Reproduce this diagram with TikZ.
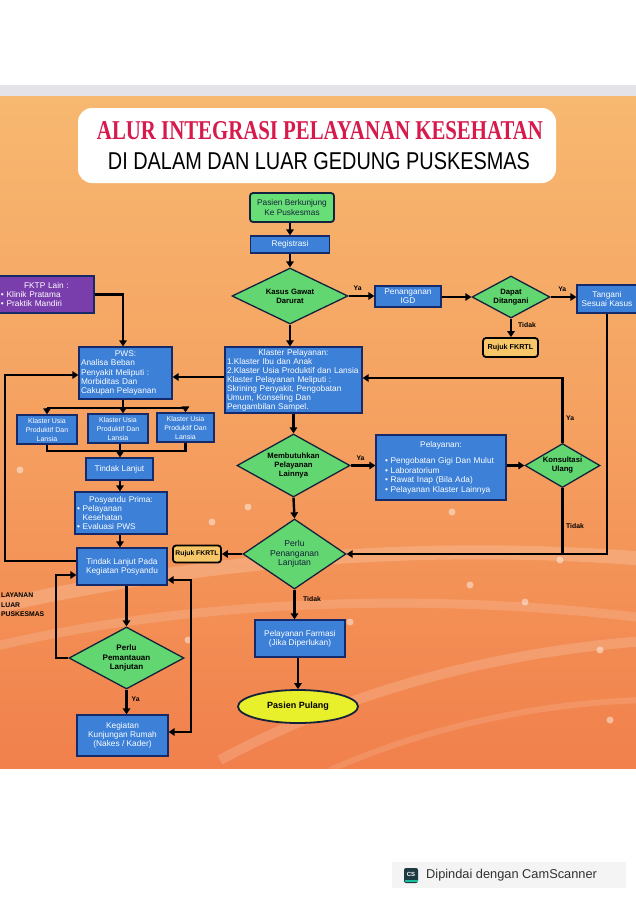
\documentclass[tikz,border=0pt]{standalone}
\usepackage{fontspec}
\setmainfont{Liberation Sans}
\newfontfamily\titleserif{Liberation Serif}
\usepackage{graphicx}
\usetikzlibrary{shapes.geometric,arrows.meta,calc}
\definecolor{boxblue}{RGB}{60,128,216}
\definecolor{navyb}{RGB}{22,42,105}
\definecolor{diagreen}{RGB}{98,214,112}
\definecolor{darkb}{RGB}{20,35,60}
\definecolor{fktppurple}{RGB}{122,62,172}
\definecolor{rujukfill}{RGB}{246,198,104}
\definecolor{pasiengreen}{RGB}{104,222,118}
\definecolor{pulangyellow}{RGB}{232,240,44}
\definecolor{titlered}{RGB}{214,26,76}
\definecolor{orangetop}{RGB}{247,184,112}
\definecolor{orangemid}{RGB}{245,160,96}
\definecolor{orangebot}{RGB}{241,128,76}
\definecolor{topstrip}{RGB}{228,228,232}
\definecolor{csgray}{RGB}{244,244,244}
\definecolor{cslogo}{RGB}{30,58,66}
\definecolor{csteal}{RGB}{26,188,156}
\definecolor{cstext}{RGB}{50,50,50}
\begin{document}
\begin{tikzpicture}[x=1pt,y=-1pt,
  bluebox/.style={draw=navyb, line width=1.2pt, fill=boxblue, text=white,
    font=\fontsize{8.3}{9.3}\selectfont, align=center, inner sep=1pt},
  purplebox/.style={draw=navyb, line width=1.2pt, fill=fktppurple, text=white,
    font=\fontsize{8.3}{9.3}\selectfont, inner sep=1pt},
  greenbox/.style={draw=darkb, line width=1.8pt, fill=pasiengreen, text=darkb,
    rounded corners=3pt, font=\fontsize{8.3}{9.5}\selectfont, align=center, inner sep=1pt},
  rujukbox/.style={draw=black, line width=1.8pt, fill=rujukfill, text=black,
    rounded corners=3pt, font=\bfseries\fontsize{7.2}{9}\selectfont, align=center, inner sep=1pt},
  dia/.style={diamond, draw=darkb, line width=1.3pt, fill=diagreen, text=black,
    font=\bfseries\fontsize{7.7}{9}\selectfont, align=center, inner sep=0pt, shape aspect=2},
  lbl/.style={font=\bfseries\fontsize{6.8}{8}\selectfont, text=black, inner sep=0pt},
  ln/.style={draw=black, line width=2.4pt},
  arr/.style={draw=black, line width=2.4pt, -{Triangle[length=6pt,width=7.5pt]}},
  arrb/.style={draw=black, line width=2.4pt, {Triangle[length=6pt,width=7.5pt]}-{Triangle[length=6pt,width=7.5pt]}}
]
\useasboundingbox (0,0) rectangle (636,900);
\fill[white] (0,0) rectangle (636,900);

% poster background
\shade[top color=orangetop, bottom color=orangemid] (0,96) rectangle (636,430);
\shade[top color=orangemid, bottom color=orangebot] (0,430) rectangle (636,768);
\fill[topstrip] (0,85) rectangle (636,96);
\begin{scope}
  \clip (0,96) rectangle (636,768);
  \draw[white, opacity=0.18, line width=14pt] (-20,610) .. controls (200,560) and (420,540) .. (660,560);
  \draw[white, opacity=0.14, line width=9pt] (-20,650) .. controls (180,600) and (430,590) .. (660,620);
  \draw[white, opacity=0.16, line width=10pt] (220,760) .. controls (350,690) and (500,650) .. (660,640);
  \draw[white, opacity=0.12, line width=6pt] (330,770) .. controls (420,730) and (540,700) .. (660,700);
  \foreach \px/\py in {248/507, 212/522, 188/640, 452/512, 350/622, 525/602, 600/650, 470/585, 560/560, 610/720, 20/470, 30/440}
    \fill[white, opacity=0.45] (\px,\py) circle (3.5pt);
\end{scope}

% title
\fill[white] (78,108) [rounded corners=14pt] rectangle (556,183);
\node[inner sep=0pt, text=titlered] (t1) at (320,131)
  {\resizebox{446pt}{18pt}{\titleserif\bfseries ALUR INTEGRASI PELAYANAN KESEHATAN}};
\node[inner sep=0pt, text=black] (t2) at (319,161.5)
  {\resizebox{422pt}{17pt}{DI DALAM DAN LUAR GEDUNG PUSKESMAS}};

% nodes
\node[greenbox, minimum width=84pt, minimum height=29pt] (pasien) at (292,207.5) {Pasien Berkunjung\\Ke Puskesmas};
\node[bluebox, minimum width=79pt, minimum height=17pt] (reg) at (290,244.5) {Registrasi};
\node[dia, minimum width=116pt, minimum height=56pt] (kasus) at (290,296) {Kasus Gawat\\Darurat};
\node[bluebox, minimum width=66pt, minimum height=21pt] (igd) at (408,296.5) {Penanganan\\IGD};
\node[dia, minimum width=78pt, minimum height=42pt] (dapat) at (511,297) {Dapat\\Ditangani};
\node[bluebox, minimum width=60pt, minimum height=28pt] (tangani) at (607,299) {Tangani\\Sesuai Kasus};
\node[rujukbox, minimum width=55pt, minimum height=19pt] (rujuka) at (510.5,347.5) {Rujuk FKRTL};

\node[purplebox, minimum width=95pt, minimum height=37pt, text width=91pt, align=left] (fktp) at (46.5,294.5)
  {\makebox[\linewidth]{FKTP Lain :}\\• Klinik Pratama\\• Praktik Mandiri};
\node[bluebox, minimum width=93pt, minimum height=52pt, text width=89pt, align=left] (pws) at (125.5,373)
  {\makebox[\linewidth]{PWS:}\\Analisa Beban\\Penyakit Meliputi :\\Morbiditas Dan\\Cakupan Pelayanan};
\node[bluebox, minimum width=137pt, minimum height=66pt, text width=133pt, align=left,
  font=\fontsize{8.3}{9}\selectfont] (klaster) at (293.5,380)
  {\makebox[\linewidth]{Klaster Pelayanan:}\\1.Klaster Ibu dan Anak\\2.Klaster Usia Produktif dan Lansia\\Klaster Pelayanan Meliputi :\\Skrining Penyakit, Pengobatan\\Umum, Konseling Dan\\Pengambilan Sampel.};

\node[bluebox, minimum width=60pt, minimum height=29pt, font=\fontsize{7}{9}\selectfont] (k1) at (47,429.5) {Klaster Usia\\Produktif Dan\\Lansia};
\node[bluebox, minimum width=60pt, minimum height=29pt, font=\fontsize{7}{9}\selectfont] (k2) at (118,428.5) {Klaster Usia\\Produktif Dan\\Lansia};
\node[bluebox, minimum width=57pt, minimum height=29pt, font=\fontsize{7}{9}\selectfont] (k3) at (185.5,427.5) {Klaster Usia\\Produktif Dan\\Lansia};

\node[bluebox, minimum width=67pt, minimum height=22pt] (tl) at (119.5,469) {Tindak Lanjut};
\node[bluebox, minimum width=92pt, minimum height=42pt, text width=88pt, align=left] (pp) at (121,513)
  {\makebox[\linewidth]{Posyandu Prima:}\\• Pelayanan\\\phantom{• }Kesehatan\\• Evaluasi PWS};
\node[bluebox, minimum width=90pt, minimum height=37pt] (tlp) at (122,566.5) {Tindak Lanjut Pada\\Kegiatan Posyandu};
\node[rujukbox, minimum width=48pt, minimum height=17pt, font=\bfseries\fontsize{6.8}{8}\selectfont] (rujukb) at (197,554) {Rujuk FKRTL};

\node[dia, minimum width=113pt, minimum height=63pt] (memb) at (293.5,465.5) {Membutuhkan\\Pelayanan\\Lainnya};
\node[bluebox, minimum width=130pt, minimum height=65pt, text width=126pt, align=left,
  font=\fontsize{8.3}{9.5}\selectfont] (pel) at (441,467.5)
  {\makebox[\linewidth]{Pelayanan:}\\[7pt]\hspace*{7pt}• Pengobatan Gigi Dan Mulut\\\hspace*{7pt}• Laboratorium\\\hspace*{7pt}• Rawat Inap (Bila Ada)\\\hspace*{7pt}• Pelayanan Klaster Lainnya};
\node[dia, minimum width=75pt, minimum height=44pt] (kons) at (562.5,465.5) {Konsultasi\\Ulang};
\node[dia, minimum width=103pt, minimum height=70pt, font=\fontsize{8.6}{9.5}\selectfont, text=darkb] (perlu) at (294.5,554) {Perlu\\Penanganan\\Lanjutan};
\node[bluebox, minimum width=90pt, minimum height=37pt] (farm) at (300,638.5) {Pelayanan Farmasi\\(Jika Diperlukan)};
\node[ellipse, draw=darkb, line width=1.8pt, fill=pulangyellow, minimum width=120pt, minimum height=33pt,
  font=\bfseries\fontsize{9}{10}\selectfont, inner sep=0pt] (pulang) at (298,706.5) {Pasien Pulang};
\node[dia, minimum width=115pt, minimum height=62pt, font=\bfseries\fontsize{8}{9.5}\selectfont] (pemant) at (126.5,658) {Perlu\\Pemantauan\\Lanjutan};
\node[bluebox, minimum width=91pt, minimum height=41pt] (kunj) at (122.5,735.5) {Kegiatan\\Kunjungan Rumah\\(Nakes / Kader)};

\node[anchor=north west, align=left, font=\bfseries\fontsize{6.8}{9.5}\selectfont, inner sep=0pt] (luar) at (1,593)
  {LAYANAN\\LUAR\\PUSKESMAS};

% helper coordinates
\coordinate (split) at (123,408);
\coordinate (join) at (120,451);
\coordinate (y377) at (0,377);
\coordinate (L1) at (5,561);
\coordinate (L2) at (5,375);
\coordinate (P1) at (56,658);
\coordinate (P2) at (56,575);
\coordinate (R1) at (191,580);
\coordinate (R2) at (191,732);
\coordinate (kup) at (0,378);

% connectors
\draw[arr] (pasien.south -| reg.north) -- (reg.north);
\draw[arr] (reg.south) -- (kasus.north);
\draw[arr] (kasus.east) -- (kasus.east -| igd.west) node[lbl, pos=0.35, above=4pt] (ya1) {Ya};
\draw[arr] (igd.east |- dapat.west) -- (dapat.west);
\draw[arr] (dapat.east) -- (dapat.east -| tangani.west) node[lbl, pos=0.45, above=4pt] (ya2) {Ya};
\draw[arr] (dapat.south) -- (dapat.south |- rujuka.north) node[lbl, pos=0.35, right=6pt] (td1) {Tidak};
\draw[arr] (kasus.south) -- (kasus.south |- klaster.north);

\draw[arr] (tangani.south) |- (perlu.east);
\draw[ln] (kons.south) -- (kons.south |- perlu.east);
\node[lbl, anchor=west] (td2) at (566,526) {Tidak};
\draw[arr] (kons.north) |- (klaster.east |- kup);
\node[lbl, anchor=west] (ya3) at (566,418) {Ya};
\draw[arr] (pel.east |- kons.west) -- (kons.west);
\draw[arr] (memb.east) -- (memb.east -| pel.west) node[lbl, pos=0.4, above=4pt] (ya4) {Ya};
\draw[arr] (klaster.south -| memb.north) -- (memb.north);
\draw[arr] (memb.south) -- (perlu.north);
\draw[arr] (perlu.west) -- (perlu.west -| rujukb.east);
\draw[arr] (perlu.south) -- (perlu.south |- farm.north);
\node[lbl, anchor=west] (td3) at (303,599) {Tidak};
\draw[arr] (pulang.north |- farm.south) -- (pulang.north);

\draw[arr] (klaster.west |- y377) -- (pws.east |- y377);
\draw[arr] (fktp.east) -| (split |- pws.north);
\draw[ln] (split |- pws.south) -- (split);
\draw[ln] (k1.north |- split) -- (k3.north |- split);
\draw[arr] (k1.north |- split) -- (k1.north);
\draw[arr] (split) -- (split |- k2.north);
\draw[arr] (k3.north |- split) -- (k3.north);
\draw[ln] (k1.south) -- (k1.south |- join) -- (k3.south |- join) -- (k3.south);
\draw[ln] (join |- k2.south) -- (join);
\draw[arr] (join) -- (join |- tl.north);
\draw[arr] (tl.south -| join) -- (join |- pp.north);
\draw[arr] (pp.south -| join) -- (join |- tlp.north);

\draw[arr] (tlp.west |- L1) -- (L1) -- (L2) -- (pws.west |- L2);
\draw[arr] (pemant.north |- tlp.south) -- (pemant.north);
\draw[arr] (pemant.west) -- (P1) -- (P2) -- (tlp.west |- P2);
\draw[arr] (pemant.south) -- (pemant.south |- kunj.north) node[lbl, pos=0.4, right=4pt] (ya5) {Ya};
\draw[arrb] (tlp.east |- R1) -- (R1) -- (R2) -- (kunj.east |- R2);

% CamScanner footer
\fill[csgray] (392,862) rectangle (626,888);
\fill[cslogo, rounded corners=2pt] (404,868) rectangle (418,883);
\fill[csteal] (404.5,880) rectangle (417.5,882);
\node[text=white, font=\bfseries\fontsize{6}{6}\selectfont, inner sep=0pt] (cs) at (411,874.5) {CS};
\node[anchor=west, text=cstext, font=\fontsize{12.8}{14}\selectfont, inner sep=0pt] (csname) at (426,875.5) {Dipindai dengan CamScanner};
\end{tikzpicture}
\end{document}
